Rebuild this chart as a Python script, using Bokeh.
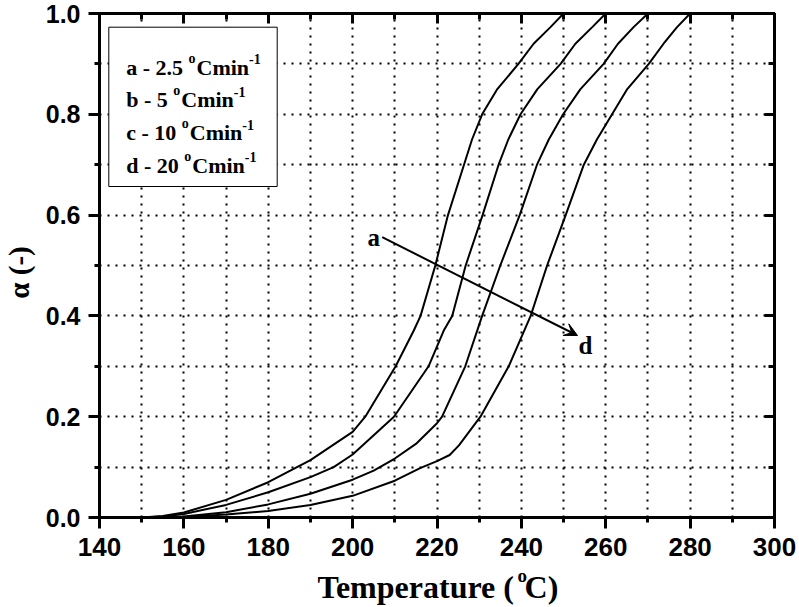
from bokeh.plotting import figure
from bokeh.models import (LinearAxis, FixedTicker, PrintfTickFormatter, CustomJSTickFormatter,
                          Label, Arrow, VeeHead, Range1d, ColumnDataSource)
from bokeh.core.properties import value
from bokeh.embed import file_html
from bokeh.resources import INLINE

# ---------------- data ----------------
temp_a = [150, 155, 160, 170, 180, 190, 200, 203, 210.2, 214.5, 216.1, 219.6, 222.6, 226.4, 228.3, 230.7, 234.3, 239.3, 242.9, 246.9, 250]
alpha_a = [0, 0.003, 0.01, 0.035, 0.07, 0.114, 0.17, 0.2, 0.3, 0.371, 0.4, 0.5, 0.6, 0.7, 0.75, 0.8, 0.85, 0.9, 0.94, 0.973, 1.0]

temp_b = [150, 155, 160, 170, 180, 190, 195.5, 200, 209.8, 218, 221.6, 223.6, 226.8, 230.8, 234.6, 236.9, 239.8, 243.8, 249.3, 252.8, 256.8, 260]
alpha_b = [0, 0.002, 0.007, 0.025, 0.05, 0.08, 0.1, 0.125, 0.2, 0.3, 0.371, 0.4, 0.5, 0.6, 0.7, 0.75, 0.8, 0.85, 0.9, 0.94, 0.973, 1.0]

temp_c = [150, 160, 170, 180, 190, 200, 205, 210, 215, 220, 221.2, 226.7, 230.7, 235, 239.6, 243.7, 246.5, 249.9, 254.0, 259.5, 262.9, 266.6, 270]
alpha_c = [0, 0.002, 0.0105, 0.026, 0.047, 0.075, 0.093, 0.117, 0.146, 0.187, 0.2, 0.3, 0.4, 0.5, 0.6, 0.7, 0.75, 0.8, 0.85, 0.9, 0.94, 0.973, 1.0]

temp_d = [150, 160, 170, 180, 190, 200, 210, 216, 220, 223, 225.2, 230.3, 237, 242.2, 246.1, 250.5, 254.8, 257.9, 261.5, 265.1, 270.2, 273.7, 276.9, 280]
alpha_d = [0, 0.001, 0.006, 0.013, 0.025, 0.043, 0.073, 0.098, 0.112, 0.124, 0.143, 0.2, 0.3, 0.4, 0.5, 0.6, 0.7, 0.75, 0.8, 0.85, 0.9, 0.94, 0.973, 1.0]

legend_letters = ["a", "b", "c", "d"]
legend_rates = ["2.5", "5", "10", "20"]
unit_main = "Cmin"
unit_sup = "-1"
deg_sup = "o"

x_major = [140, 160, 180, 200, 220, 240, 260, 280, 300]
x_minor = [150, 170, 190, 210, 230, 250, 270, 290]
y_major = [0.0, 0.2, 0.4, 0.6, 0.8, 1.0]
y_minor = [0.1, 0.3, 0.5, 0.7, 0.9]
x_grid = [150, 160, 170, 180, 190, 200, 210, 220, 230, 240, 250, 260, 270, 280, 290]
y_grid = [0.1, 0.2, 0.3, 0.4, 0.5, 0.6, 0.7, 0.8, 0.9]

x_title = "Temperature (\u2004C)"   # gap holds the superscript "o"
x_title_sup = "o"
y_title = "\u03b1 (-)"
arrow_labels = ["a", "d"]

# ---------------- layout helpers ----------------
X0, X1, Y0, Y1 = 140, 300, 0.0, 1.0
W, H = 799, 607
FL, FT, FW, FH = 99, 13, 675, 504   # frame in page pixels


def tx(px):
    return X0 + (px - FL) * (X1 - X0) / FW


def ty(py):
    return Y1 - (py - FT) * (Y1 - Y0) / FH


TB = {'a': 500, 'b': 556, 'c': 444, 'd': 556, ' ': 250, '-': 333, '.': 250, '0': 500, '1': 500,
      '2': 500, '5': 500, 'C': 722, 'm': 833, 'i': 278, 'n': 556, 'o': 500, 'T': 667, 'e': 444,
      'p': 556, 'r': 444, 't': 333, 'u': 556, '(': 333, ')': 333}


def tw(s, size):
    return sum(TB.get(ch, 500) for ch in s) * size / 1000.0


SERIF = "Liberation Serif"
SANS = "Liberation Sans"

p = figure(width=W, height=H, x_range=Range1d(X0, X1), y_range=Range1d(Y0, Y1),
           output_backend="svg", toolbar_location=None,
           min_border_left=FL, min_border_right=W - FL - FW, min_border_top=FT,
           min_border_bottom=H - FT - FH)
p.background_fill_color = "white"
p.border_fill_color = "white"
p.outline_line_color = "black"
p.outline_line_width = 3

# grids
p.xgrid.ticker = FixedTicker(ticks=x_grid)
p.ygrid.ticker = FixedTicker(ticks=y_grid)
for g in (p.xgrid, p.ygrid):
    g.grid_line_color = "black"
    g.grid_line_dash = "2 6"
    g.grid_line_width = 2

# bottom / left axes
xa = p.xaxis[0]
xa.ticker = FixedTicker(ticks=x_major, minor_ticks=x_minor)
xa.formatter = PrintfTickFormatter(format="%d")
ya = p.yaxis[0]
ya.ticker = FixedTicker(ticks=y_major, minor_ticks=y_minor)
ya.formatter = PrintfTickFormatter(format="%.1f")
for ax, fs, so in ((xa, "26px", 9), (ya, "25px", 8)):
    ax.axis_line_width = 3
    ax.major_tick_in = 0
    ax.major_tick_out = 11
    ax.minor_tick_in = 0
    ax.minor_tick_out = 5
    ax.major_tick_line_width = 3
    ax.minor_tick_line_width = 3
    ax.major_label_text_font = SANS
    ax.major_label_text_font_style = "bold"
    ax.major_label_text_font_size = fs
    ax.major_label_text_color = "black"
    ax.major_label_standoff = so

# top / right mirror axes (ticks inside, no labels)
for loc, ticks, minors in (("above", x_major, x_minor), ("right", y_major, y_minor)):
    ax = LinearAxis(ticker=FixedTicker(ticks=ticks, minor_ticks=minors),
                    formatter=CustomJSTickFormatter(code="return ''"),
                    major_label_text_font_size="0px", major_label_standoff=0,
                    axis_line_width=3, major_tick_in=10, major_tick_out=0,
                    minor_tick_in=6, minor_tick_out=0,
                    major_tick_line_width=3, minor_tick_line_width=3)
    p.add_layout(ax, loc)

# curves
for T, A in ((temp_a, alpha_a), (temp_b, alpha_b), (temp_c, alpha_c), (temp_d, alpha_d)):
    p.line(T, A, line_color="black", line_width=2)

# arrow + labels
p.add_layout(Arrow(end=VeeHead(size=13, fill_color="black", line_color="black"),
                   x_start=tx(381.7), y_start=ty(236.7), x_end=tx(577), y_end=ty(335),
                   line_color="black", line_width=2))
p.text(x=[tx(367), tx(578)], y=[ty(236.7), ty(345)], text=arrow_labels,
       text_font=value(SERIF), text_font_style="bold", text_font_size="25px",
       text_baseline="alphabetic", text_align="left", text_color="black")

# legend box
p.quad(left=[tx(108.3)], right=[tx(276.7)], top=[ty(26.7)], bottom=[ty(186)],
       fill_color="white", line_color="black", line_width=1)

LS, SS = 22, 14
big = dict(x=[], y=[], text=[], xo=[])
small = dict(x=[], y=[], text=[], xo=[], yo=[])
baselines = [66.7, 99.3, 132.0, 164.7]
for letter, rate, bl in zip(legend_letters, legend_rates, baselines):
    main = f"{letter} - {rate} "
    w0 = tw(main, LS)
    w1 = w0 + tw(deg_sup, SS) + 1
    w2 = w1 + tw(unit_main, LS)
    for t, xo in ((main, 0), (unit_main, w1)):
        big["x"].append(tx(125.7)); big["y"].append(ty(bl)); big["text"].append(t); big["xo"].append(xo)
    for t, xo, yo in ((deg_sup, w0, -9), (unit_sup, w2, -8)):
        small["x"].append(tx(125.7)); small["y"].append(ty(bl)); small["text"].append(t)
        small["xo"].append(xo); small["yo"].append(yo)

p.text(x="x", y="y", text="text", x_offset="xo", source=ColumnDataSource(big),
       text_font=value(SERIF), text_font_style="bold", text_font_size=f"{LS}px",
       text_baseline="alphabetic", text_align="left", text_color="black")
p.text(x="x", y="y", text="text", x_offset="xo", y_offset="yo", source=ColumnDataSource(small),
       text_font=value(SERIF), text_font_style="bold", text_font_size=f"{SS}px",
       text_baseline="alphabetic", text_align="left", text_color="black")

# x axis title: main text in the below panel, superscript in the right panel
TS, TSS = 32, 19
xt0 = 317
p.add_layout(Label(x=tx(xt0), y=ty(586), text=x_title,
                   text_font=SERIF, text_font_style="bold", text_font_size=f"{TS}px",
                   text_baseline="alphabetic", text_align="left", text_color="black"),
             "below")
p.add_layout(Label(x=tx(xt0 + tw("Temperature (", TS)), y=ty(586), y_offset=11, text=x_title_sup,
                   text_font=SERIF, text_font_style="bold", text_font_size=f"{TSS}px",
                   text_baseline="alphabetic", text_align="left", text_color="black"),
             "right")

# y axis title
p.add_layout(Label(x=tx(18), y=ty(272), text=y_title, angle=1.5707963, angle_units="rad",
                   text_font=SERIF, text_font_style="bold", text_font_size="29px",
                   text_baseline="middle", text_align="center", text_color="black"),
             "left")

open("out.html", "w").write(file_html(p, INLINE))
